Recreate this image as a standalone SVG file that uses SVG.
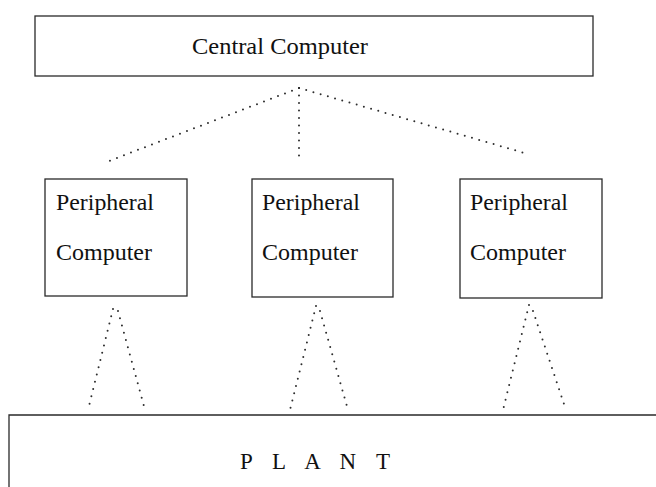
<svg xmlns="http://www.w3.org/2000/svg" width="656" height="487" viewBox="0 0 656 487">
  <style>
    .box { fill: #fff; stroke: #2a2a2a; stroke-width: 1.3; }
    .edge { fill: none; stroke: #2a2a2a; stroke-width: 1.3; }
    .label { font-family: "Liberation Serif", "Times New Roman", serif; font-size: 23px; fill: #111; }
    .link { fill: none; stroke: #2e2e2e; stroke-width: 2; stroke-linecap: round; stroke-dasharray: 0 7.5; }
  </style>
  <rect width="656" height="487" fill="#fff"/>

  <g id="central">
    <rect class="box" x="35" y="16" width="558" height="60"/>
    <text class="label" x="192" y="54" textLength="176" lengthAdjust="spacingAndGlyphs">Central Computer</text>
  </g>

  <g id="peripheral-1">
    <rect class="box" x="45" y="179" width="142" height="117"/>
    <text class="label" x="56" y="210" textLength="98" lengthAdjust="spacingAndGlyphs">Peripheral</text>
    <text class="label" x="56" y="260" textLength="96" lengthAdjust="spacingAndGlyphs">Computer</text>
  </g>

  <g id="peripheral-2">
    <rect class="box" x="252" y="179" width="141" height="118"/>
    <text class="label" x="262" y="210" textLength="98" lengthAdjust="spacingAndGlyphs">Peripheral</text>
    <text class="label" x="262" y="260" textLength="96" lengthAdjust="spacingAndGlyphs">Computer</text>
  </g>

  <g id="peripheral-3">
    <rect class="box" x="460" y="179" width="142" height="119"/>
    <text class="label" x="470" y="210" textLength="98" lengthAdjust="spacingAndGlyphs">Peripheral</text>
    <text class="label" x="470" y="260" textLength="96" lengthAdjust="spacingAndGlyphs">Computer</text>
  </g>

  <g id="plant">
    <path class="edge" d="M9 487 V415 H656"/>
    <text class="label" x="240" y="469" font-size="24" textLength="150" lengthAdjust="spacing">P L A N T</text>
  </g>

  <g id="connectors">
    <!-- central computer to peripherals -->
    <line class="link" x1="299" y1="88" x2="109" y2="161"/>
    <line class="link" x1="299" y1="88" x2="299" y2="157"/>
    <line class="link" x1="299" y1="88" x2="528" y2="154"/>
    <!-- peripherals to plant -->
    <line class="link" x1="113" y1="309" x2="88" y2="410"/>
    <line class="link" x1="118" y1="311" x2="145" y2="410"/>
    <line class="link" x1="316" y1="306" x2="290" y2="410"/>
    <line class="link" x1="320" y1="311" x2="348" y2="410"/>
    <line class="link" x1="529" y1="305" x2="503" y2="410"/>
    <line class="link" x1="533" y1="311" x2="566" y2="410"/>
  </g>
</svg>
